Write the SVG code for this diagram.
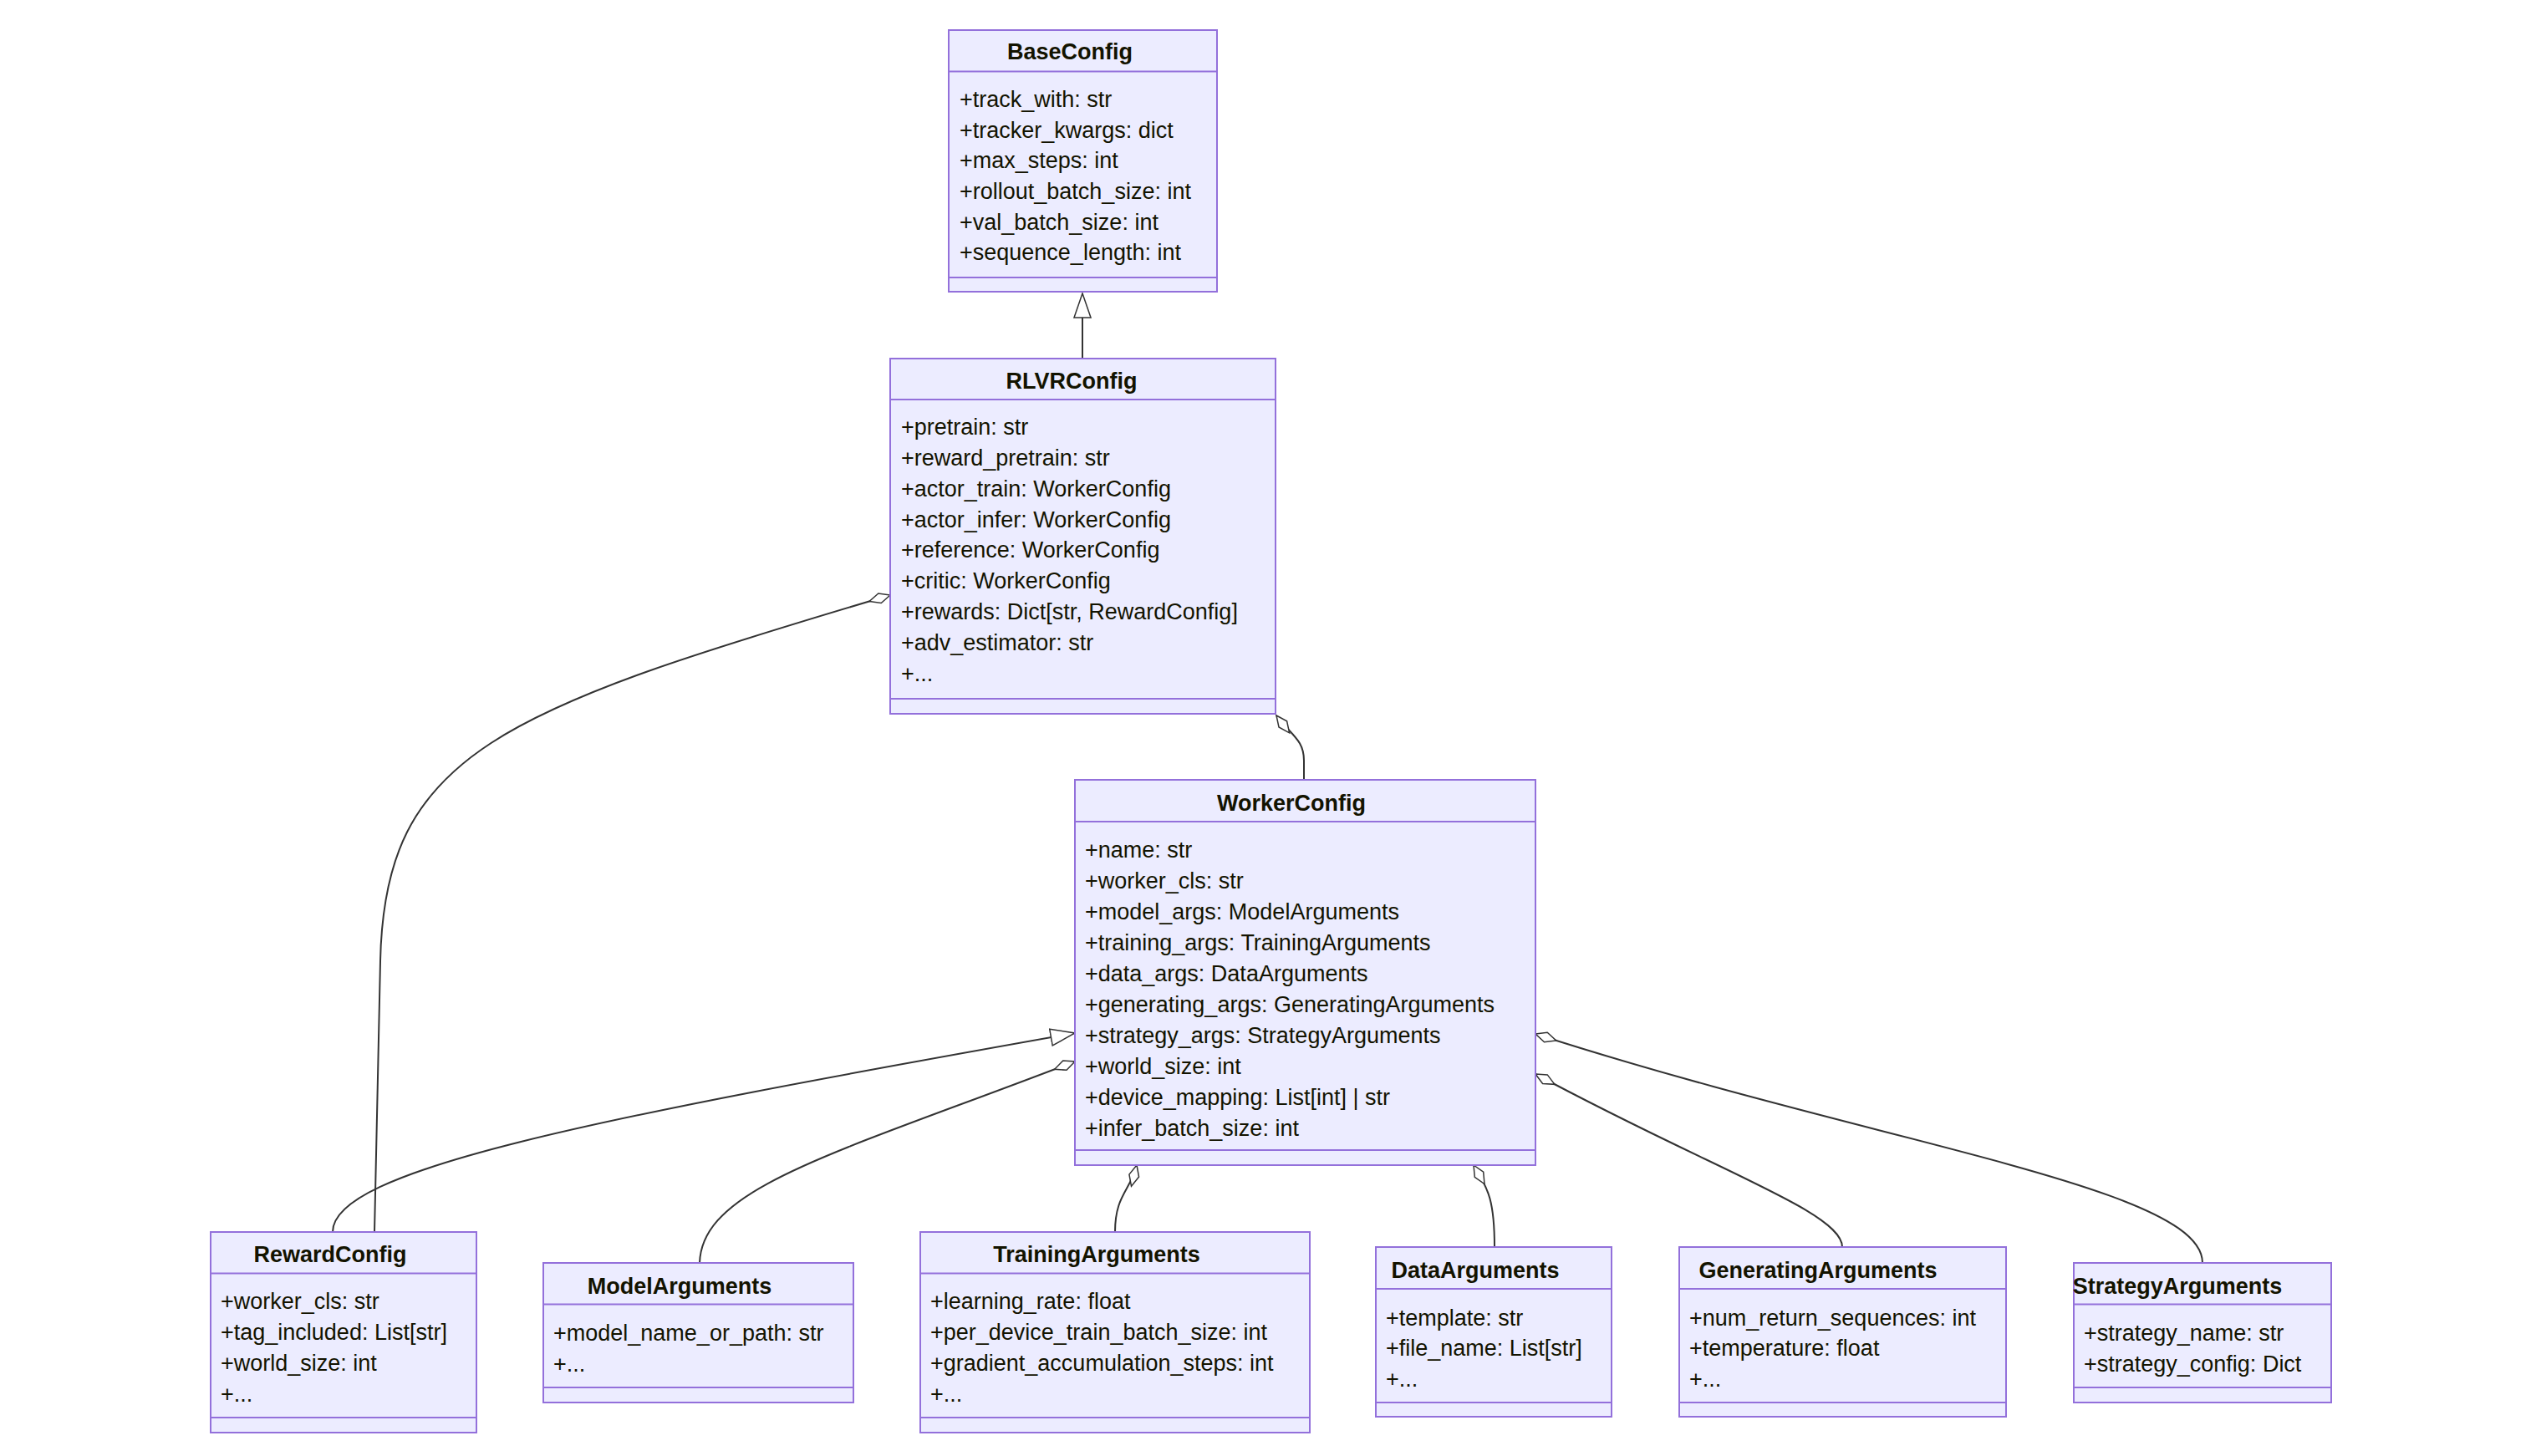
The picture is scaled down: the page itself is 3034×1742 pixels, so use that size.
<svg xmlns="http://www.w3.org/2000/svg" width="3034" height="1742" viewBox="0 0 3034 1742">
<style>
.box{fill:#ECECFF;stroke:#9370DB;stroke-width:2}
.sep{stroke:#9370DB;stroke-width:2}
.t{font-family:"Liberation Sans",Arial,sans-serif;font-size:27px;fill:#131300;dominant-baseline:central}
.h{font-weight:bold;text-anchor:middle}
.e{fill:none;stroke:#333;stroke-width:2}
</style>
<defs>
<marker id="dia" markerUnits="userSpaceOnUse" markerWidth="30" markerHeight="16" refX="1" refY="8" orient="auto" viewBox="0 0 30 16">
<path d="M1,8 L14,2 L27,8 L14,14 Z" fill="#fff" stroke="#333" stroke-width="1.5"/>
</marker>
<marker id="tri" markerUnits="userSpaceOnUse" markerWidth="32" markerHeight="22" refX="30" refY="11" orient="auto" viewBox="0 0 32 22">
<path d="M1,1 L30,11 L1,21 Z" fill="#fff" stroke="#333" stroke-width="1.5"/>
</marker>
</defs>
<rect width="3034" height="1742" fill="#fff"/>
<g id="edges">
<path class="e" d="M1295,429 L1295,351" marker-end="url(#tri)"/>
<path class="e" d="M1065,712 C600,850 460,900 455,1150 L448,1474" marker-start="url(#dia)"/>
<path class="e" d="M1527,856 C1545,880 1560,885 1560,910 L1560,933" marker-start="url(#dia)"/>
<path class="e" d="M398,1474 C398,1400 700,1340 1286,1236" marker-end="url(#tri)"/>
<path class="e" d="M1286,1270 C1000,1380 840,1420 837,1511" marker-start="url(#dia)"/>
<path class="e" d="M1360,1394 C1352,1425 1334,1430 1334,1474" marker-start="url(#dia)"/>
<path class="e" d="M1763,1394 C1778,1420 1788,1430 1788,1492" marker-start="url(#dia)"/>
<path class="e" d="M1837,1285 C2050,1400 2204,1450 2204,1492" marker-start="url(#dia)"/>
<path class="e" d="M1837,1237 C2250,1370 2635,1420 2635,1511" marker-start="url(#dia)"/>
</g>
<g id="BaseConfig">
<rect class="box" x="1135" y="36" width="321" height="313"/>
<line class="sep" x1="1135" y1="85.5" x2="1456" y2="85.5"/>
<line class="sep" x1="1135" y1="332" x2="1456" y2="332"/>
<text class="t h" x="1280" y="62">BaseConfig</text>
<text class="t" x="1148" y="119">+track_with: str</text>
<text class="t" x="1148" y="156">+tracker_kwargs: dict</text>
<text class="t" x="1148" y="192">+max_steps: int</text>
<text class="t" x="1148" y="229">+rollout_batch_size: int</text>
<text class="t" x="1148" y="266">+val_batch_size: int</text>
<text class="t" x="1148" y="302">+sequence_length: int</text>
</g>
<g id="RLVRConfig">
<rect class="box" x="1065" y="429" width="461" height="425"/>
<line class="sep" x1="1065" y1="478" x2="1526" y2="478"/>
<line class="sep" x1="1065" y1="836" x2="1526" y2="836"/>
<text class="t h" x="1282" y="456">RLVRConfig</text>
<text class="t" x="1078" y="511">+pretrain: str</text>
<text class="t" x="1078" y="548">+reward_pretrain: str</text>
<text class="t" x="1078" y="585">+actor_train: WorkerConfig</text>
<text class="t" x="1078" y="622">+actor_infer: WorkerConfig</text>
<text class="t" x="1078" y="658">+reference: WorkerConfig</text>
<text class="t" x="1078" y="695">+critic: WorkerConfig</text>
<text class="t" x="1078" y="732">+rewards: Dict[str, RewardConfig]</text>
<text class="t" x="1078" y="769">+adv_estimator: str</text>
<text class="t" x="1078" y="806">+...</text>
</g>
<g id="WorkerConfig">
<rect class="box" x="1286" y="933" width="551" height="461"/>
<line class="sep" x1="1286" y1="983" x2="1837" y2="983"/>
<line class="sep" x1="1286" y1="1376" x2="1837" y2="1376"/>
<text class="t h" x="1545" y="961">WorkerConfig</text>
<text class="t" x="1298" y="1017">+name: str</text>
<text class="t" x="1298" y="1054">+worker_cls: str</text>
<text class="t" x="1298" y="1091">+model_args: ModelArguments</text>
<text class="t" x="1298" y="1128">+training_args: TrainingArguments</text>
<text class="t" x="1298" y="1165">+data_args: DataArguments</text>
<text class="t" x="1298" y="1202">+generating_args: GeneratingArguments</text>
<text class="t" x="1298" y="1239">+strategy_args: StrategyArguments</text>
<text class="t" x="1298" y="1276">+world_size: int</text>
<text class="t" x="1298" y="1313">+device_mapping: List[int] | str</text>
<text class="t" x="1298" y="1350">+infer_batch_size: int</text>
</g>
<g id="RewardConfig">
<rect class="box" x="252" y="1474" width="318" height="240"/>
<line class="sep" x1="252" y1="1523.5" x2="570" y2="1523.5"/>
<line class="sep" x1="252" y1="1696" x2="570" y2="1696"/>
<text class="t h" x="395" y="1501">RewardConfig</text>
<text class="t" x="264" y="1557">+worker_cls: str</text>
<text class="t" x="264" y="1594">+tag_included: List[str]</text>
<text class="t" x="264" y="1631">+world_size: int</text>
<text class="t" x="264" y="1668">+...</text>
</g>
<g id="ModelArguments">
<rect class="box" x="650" y="1511" width="371" height="167"/>
<line class="sep" x1="650" y1="1560.5" x2="1021" y2="1560.5"/>
<line class="sep" x1="650" y1="1660" x2="1021" y2="1660"/>
<text class="t h" x="813" y="1539">ModelArguments</text>
<text class="t" x="662" y="1595">+model_name_or_path: str</text>
<text class="t" x="662" y="1632">+...</text>
</g>
<g id="TrainingArguments">
<rect class="box" x="1101" y="1474" width="466" height="240"/>
<line class="sep" x1="1101" y1="1523.5" x2="1567" y2="1523.5"/>
<line class="sep" x1="1101" y1="1696" x2="1567" y2="1696"/>
<text class="t h" x="1312" y="1501">TrainingArguments</text>
<text class="t" x="1113" y="1557">+learning_rate: float</text>
<text class="t" x="1113" y="1594">+per_device_train_batch_size: int</text>
<text class="t" x="1113" y="1631">+gradient_accumulation_steps: int</text>
<text class="t" x="1113" y="1668">+...</text>
</g>
<g id="DataArguments">
<rect class="box" x="1646" y="1492" width="282" height="203"/>
<line class="sep" x1="1646" y1="1542" x2="1928" y2="1542"/>
<line class="sep" x1="1646" y1="1678" x2="1928" y2="1678"/>
<text class="t h" x="1765" y="1520">DataArguments</text>
<text class="t" x="1658" y="1577">+template: str</text>
<text class="t" x="1658" y="1613">+file_name: List[str]</text>
<text class="t" x="1658" y="1650">+...</text>
</g>
<g id="GeneratingArguments">
<rect class="box" x="2009" y="1492" width="391" height="203"/>
<line class="sep" x1="2009" y1="1542" x2="2400" y2="1542"/>
<line class="sep" x1="2009" y1="1678" x2="2400" y2="1678"/>
<text class="t h" x="2175" y="1520">GeneratingArguments</text>
<text class="t" x="2021" y="1577">+num_return_sequences: int</text>
<text class="t" x="2021" y="1613">+temperature: float</text>
<text class="t" x="2021" y="1650">+...</text>
</g>
<g id="StrategyArguments">
<rect class="box" x="2481" y="1511" width="308" height="167"/>
<line class="sep" x1="2481" y1="1560.5" x2="2789" y2="1560.5"/>
<line class="sep" x1="2481" y1="1660" x2="2789" y2="1660"/>
<text class="t h" x="2605" y="1539">StrategyArguments</text>
<text class="t" x="2493" y="1595">+strategy_name: str</text>
<text class="t" x="2493" y="1632">+strategy_config: Dict</text>
</g>
</svg>
